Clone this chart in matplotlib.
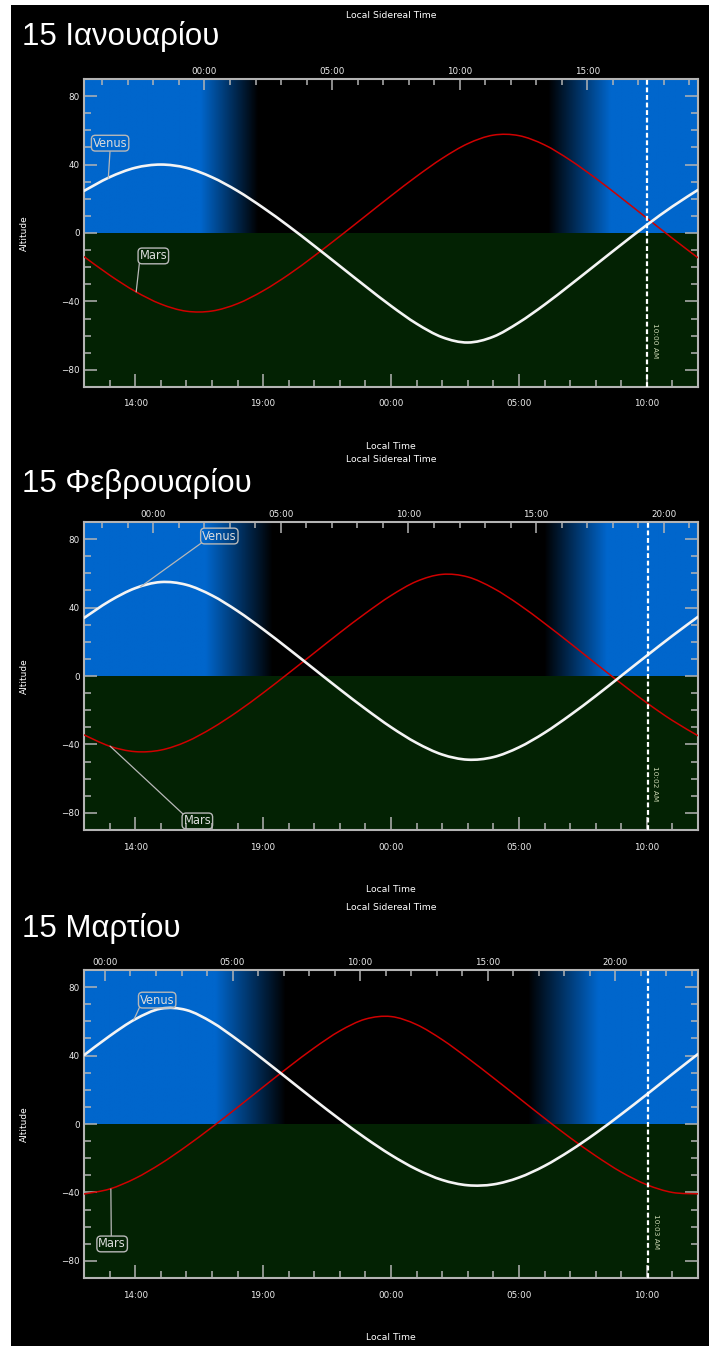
import numpy as np
import matplotlib.pyplot as plt
from matplotlib.patches import Rectangle, PathPatch
from matplotlib.path import Path
from matplotlib.ticker import MultipleLocator, FixedLocator

# local time in hours (12 = noon, 24 = midnight, 36 = next noon)
hours = list(range(12, 37))

titles = ["15 Ιανουαρίου", "15 Φεβρουαρίου", "15 Μαρτίου"]

venus_jan = [24.6, 32.6, 38.1, 40.0, 38.1, 32.6, 24.6, 14.8, 4.0, -7.5, -19.3, -31.1, -42.6,
             -53.0, -60.9, -64.0, -60.6, -52.3, -41.9, -30.4, -18.6, -6.8, 4.7, 15.5, 25.2]
mars_jan = [-13.8, -24.6, -34.1, -41.5, -45.7, -45.6, -41.3, -33.8, -24.3, -13.4, -1.9, 9.9, 21.7,
            33.1, 43.6, 52.2, 57.2, 56.9, 51.5, 42.6, 32.0, 20.5, 8.7, -3.1, -14.5]
venus_feb = [33.9, 43.8, 51.3, 54.9, 53.3, 47.1, 38.0, 27.3, 15.8, 4.0, -7.8, -19.2, -29.9,
             -39.1, -45.9, -48.9, -47.4, -41.7, -33.2, -22.9, -11.7, 0.1, 11.9, 23.5, 34.6]
mars_feb = [-34.4, -41.0, -44.2, -43.3, -38.4, -30.5, -20.8, -9.9, 1.7, 13.5, 25.3, 36.6, 47.0,
            55.3, 59.4, 57.9, 51.3, 41.8, 30.8, 19.2, 7.3, -4.4, -15.7, -26.0, -34.9]
venus_mar = [40.2, 51.4, 61.2, 67.4, 66.6, 59.5, 49.2, 37.8, 26.0, 14.2, 2.7, -8.2, -18.1,
             -26.5, -32.7, -35.8, -35.3, -31.3, -24.5, -15.6, -5.4, 5.7, 17.3, 29.2, 40.9]
mars_mar = [-40.9, -38.0, -31.8, -23.2, -13.0, -1.9, 9.7, 21.6, 33.3, 44.5, 54.4, 61.3, 62.8,
            58.1, 49.3, 38.5, 27.0, 15.2, 3.4, -8.0, -18.6, -28.1, -35.5, -40.0, -40.8]
venus = [venus_jan, venus_feb, venus_mar]
mars = [mars_jan, mars_feb, mars_mar]

now_time = [34.0, 34.033, 34.05]
now_label = ["10:00 AM", "10:02 AM", "10:03 AM"]

# local time at which local sidereal time reads 00:00
lst_zero = [16.71, 14.71, 12.82]

# twilight: (sky fully blue, sky black) in the evening / (black, blue) in the morning
dusk = [(16.55, 18.8), (16.75, 19.37), (17.14, 19.88)]
dawn = [(30.16, 32.6), (30.0, 32.45), (29.37, 32.12)]

bottom_ticks = [14, 19, 24, 29, 34]
bottom_labels = ["14:00", "19:00", "00:00", "05:00", "10:00"]
alt_ticks = [-80, -40, 0, 40, 80]

# label boxes: (text x, text y, curve x, curve y, relpos)
venus_tag = [(13.02, 52.5, 12.95, 32.0, (0.5, 0)),
             (17.29, 81.8, 14.2, 52.0, (0, 0)),
             (14.86, 72.4, 13.95, 61.0, (0, 0))]
mars_tag = [(14.71, -13.4, 14.04, -34.4, (0, 0)),
            (16.43, -84.7, 13.02, -41.0, (0, 1)),
            (13.10, -70.1, 13.05, -38.0, (0.47, 1))]

W, H = 709, 1346
panel_top = [79, 522, 970]
title_base = [45, 492, 937]
sky_rgb = np.array([0, 102, 204]) / 255
ground = '#032203'
grey = '#b4b4b4'
txt = '#ececec'


def smooth_line(ax, x, y, **kw):
    # smooth curve through the read points (Catmull-Rom as cubic Bezier segments)
    p = np.column_stack([x, y]).astype(float)
    ext = np.vstack([p[0], p, p[-1]])
    verts = [p[0]]
    codes = [Path.MOVETO]
    for k in range(len(p) - 1):
        a, b, c, d = ext[k], ext[k + 1], ext[k + 2], ext[k + 3]
        verts += [b + (c - a) / 6, c - (d - b) / 6, c]
        codes += [Path.CURVE4] * 3
    ax.add_patch(PathPatch(Path(verts, codes), fill=False, capstyle='round', **kw))


fig = plt.figure(figsize=(W / 100, H / 100), dpi=100)
fig.patch.set_facecolor('white')
fig.patches.append(Rectangle((11 / W, 0), 1, 1 - 5 / H, transform=fig.transFigure,
                             facecolor='black', edgecolor='none', zorder=-1))

for i in range(3):
    top = panel_top[i]
    ax = fig.add_axes([84 / W, 1 - (top + 308) / H, 614 / W, 308 / H])
    ax.set_facecolor('black')

    tt = np.linspace(12, 36, 800)
    f = np.interp(tt, [12, dusk[i][0], dusk[i][1], dawn[i][0], dawn[i][1], 36], [1, 1, 0, 0, 1, 1])
    img = np.zeros((1, len(tt), 3))
    img[0] = f[:, None] * sky_rgb
    ax.imshow(img, extent=[12, 36, 0, 90], aspect='auto', zorder=0, interpolation='bilinear')
    ax.axhspan(-90, 0, color=ground, lw=0, zorder=0)

    smooth_line(ax, hours, mars[i], edgecolor='#d00000', lw=1.1, zorder=3)
    smooth_line(ax, hours, venus[i], edgecolor='#f4f4f4', lw=1.9, zorder=4)

    ax.axvline(now_time[i], color='white', lw=1.6, ls=(0, (2.2, 1.2)), zorder=5)
    ax.text(now_time[i] + 0.3, -63, now_label[i], rotation=270, color='#c8d4b0',
            fontsize=5.3, ha='center', va='center', zorder=6)

    for name, tag in (("Venus", venus_tag[i]), ("Mars", mars_tag[i])):
        ax.annotate(name, xy=(tag[2], tag[3]), xytext=(tag[0], tag[1]), color='#dcdcdc',
                    fontsize=8.3, ha='center', va='center', zorder=7,
                    bbox=dict(boxstyle='round,pad=0.12,rounding_size=0.35', fc='none',
                              ec='#b8b8b8', lw=1.0),
                    arrowprops=dict(arrowstyle='-', color='#b8b8b8', lw=0.9,
                                    relpos=tag[4], shrinkA=0, shrinkB=0))

    ax.set_xlim(12, 36)
    ax.set_ylim(-90, 90)
    ax.xaxis.set_major_locator(FixedLocator(bottom_ticks))
    ax.set_xticklabels(bottom_labels)
    ax.xaxis.set_minor_locator(MultipleLocator(1))
    ax.yaxis.set_major_locator(FixedLocator(alt_ticks))
    ax.yaxis.set_minor_locator(MultipleLocator(10))
    ax.tick_params(which='both', direction='in', colors=grey, labelcolor=txt,
                   top=False, right=True, labelsize=6.3, width=1.1)
    ax.tick_params(axis='x', which='major', length=9.5, pad=9)
    ax.tick_params(axis='y', which='major', length=9.5, pad=3)
    ax.tick_params(which='minor', length=5)
    for s in ax.spines.values():
        s.set_color(grey)
        s.set_linewidth(1.5)

    # sidereal time ticks on a twin axis, positioned in local time
    t0 = lst_zero[i]
    lst_hours = [h for h in range(-12, 30) if 12 < t0 + h / 1.0027 < 36]
    sec = ax.twiny()
    sec.set_xlim(12, 36)
    sec.xaxis.set_major_locator(FixedLocator([t0 + h / 1.0027 for h in lst_hours if h % 5 == 0]))
    sec.set_xticklabels([f"{h % 24:02d}:00" for h in lst_hours if h % 5 == 0])
    sec.xaxis.set_minor_locator(FixedLocator([t0 + h / 1.0027 for h in lst_hours if h % 5]))
    sec.tick_params(which='both', direction='in', colors=grey, labelcolor=txt,
                    labelsize=6.3, width=1.1, pad=2)
    sec.tick_params(which='major', length=8)
    sec.tick_params(which='minor', length=4)
    for s in sec.spines.values():
        s.set_visible(False)

    fig.text(391 / W, 1 - (top - 63) / H, "Local Sidereal Time", color='white', fontsize=6.7,
             ha='center', va='center')
    fig.text(391 / W, 1 - (top + 368) / H, "Local Time", color='white', fontsize=6.7,
             ha='center', va='center')
    fig.text(24 / W, 1 - (top + 154) / H, "Altitude", color='white', fontsize=6.5,
             rotation=90, ha='center', va='center')
    fig.text(22 / W, 1 - title_base[i] / H, titles[i], color='white', fontsize=22.5,
             family='Liberation Sans', ha='left', va='baseline')

fig.savefig('out.png', dpi=100, facecolor=fig.get_facecolor())
